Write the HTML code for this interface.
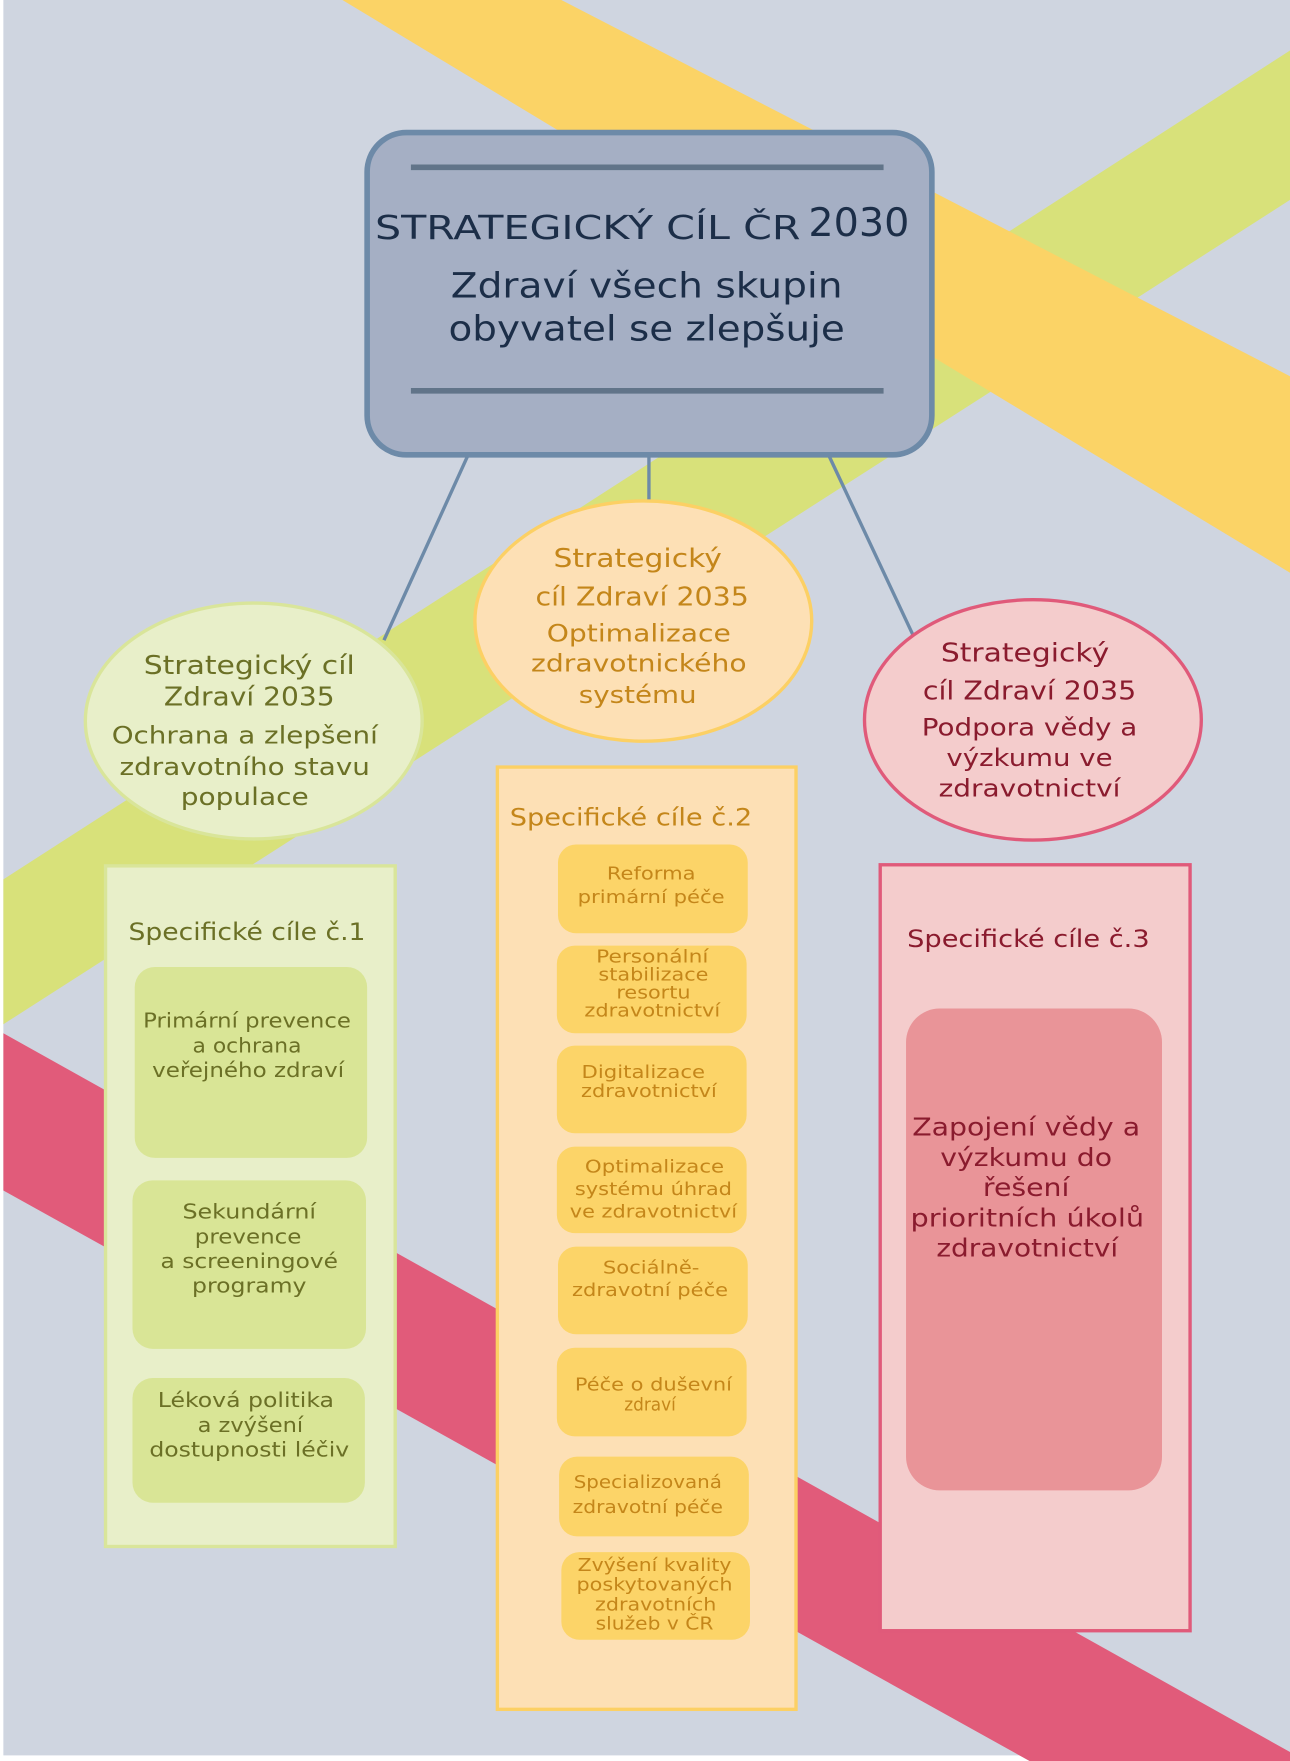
<!DOCTYPE html>
<html><head><meta charset="utf-8"><style>
html,body{margin:0;padding:0;background:#fff;}
svg{display:block;}
text{font-family:"DejaVu Sans","Liberation Sans",sans-serif;}
</style></head><body>
<svg width="1290" height="1761" viewBox="0 0 1149 1568" preserveAspectRatio="none" xmlns="http://www.w3.org/2000/svg">
<rect x="0" y="0" width="1149" height="1568" fill="#fff"/>
<rect x="3" y="0" width="1146" height="1563" fill="#cfd5e0"/>
<!-- bands -->
<polygon points="1149,45 1149,178 3,912 3,783" fill="#d8e17a"/>
<polygon points="305,0 500,0 1149,335 1149,510" fill="#fbd366"/>
<polygon points="3,920 1149,1560 1149,1568 917,1568 3,1060" fill="#e15b7a"/>
<!-- connectors -->
<g stroke="#6d8aa8" stroke-width="3">
<line x1="417" y1="405" x2="342" y2="570"/>
<line x1="578" y1="405" x2="578" y2="448"/>
<line x1="738" y1="405" x2="813" y2="565"/>
</g>
<!-- main box -->
<rect x="327" y="118" width="503" height="287" rx="35" fill="#a5afc4" stroke="#6d8aa8" stroke-width="5"/>
<line x1="366" y1="149" x2="787" y2="149" stroke="#617489" stroke-width="5"/>
<line x1="366" y1="348" x2="787" y2="348" stroke="#617489" stroke-width="5"/>
<g fill="#1c2e48" lengthAdjust="spacingAndGlyphs">
<text x="334" y="213" font-size="29" textLength="379" lengthAdjust="spacingAndGlyphs">STRATEGICKÝ CÍL ČR</text>
<text x="720" y="210" font-size="35" textLength="90" lengthAdjust="spacingAndGlyphs">2030</text>
<text x="576" y="265" font-size="31" text-anchor="middle" textLength="349" lengthAdjust="spacingAndGlyphs">Zdraví všech skupin</text>
<text x="576" y="303" font-size="31" text-anchor="middle" textLength="353" lengthAdjust="spacingAndGlyphs">obyvatel se zlepšuje</text>
</g>
<!-- ellipses -->
<ellipse cx="226" cy="642" rx="150" ry="105" fill="#e8efc9" stroke="#d9e59a" stroke-width="3"/>
<g fill="#6b7026" text-anchor="middle" lengthAdjust="spacingAndGlyphs">
<text x="222" y="600" font-size="23" textLength="188" lengthAdjust="spacingAndGlyphs">Strategický cíl</text>
<text x="222" y="628" font-size="23" textLength="152" lengthAdjust="spacingAndGlyphs">Zdraví 2035</text>
<text x="218" y="662" font-size="21" textLength="237" lengthAdjust="spacingAndGlyphs">Ochrana a zlepšení</text>
<text x="218" y="690" font-size="21" textLength="223" lengthAdjust="spacingAndGlyphs">zdravotního stavu</text>
<text x="218" y="717" font-size="21" textLength="114" lengthAdjust="spacingAndGlyphs">populace</text>
</g>
<ellipse cx="573" cy="553" rx="150" ry="107" fill="#fde0b5" stroke="#fcd064" stroke-width="3"/>
<g fill="#c4861a" text-anchor="middle">
<text x="568" y="505" font-size="23" textLength="150" lengthAdjust="spacingAndGlyphs">Strategický</text>
<text x="572" y="539" font-size="23" textLength="190" lengthAdjust="spacingAndGlyphs">cíl Zdraví 2035</text>
<text x="569" y="571" font-size="21" textLength="164" lengthAdjust="spacingAndGlyphs">Optimalizace</text>
<text x="569" y="598" font-size="21" textLength="192" lengthAdjust="spacingAndGlyphs">zdravotnického</text>
<text x="568" y="626" font-size="21" textLength="105" lengthAdjust="spacingAndGlyphs">systému</text>
</g>
<ellipse cx="920" cy="641" rx="150" ry="107" fill="#f4cccc" stroke="#e05a7a" stroke-width="3"/>
<g fill="#8a1b2e" text-anchor="middle">
<text x="913" y="589" font-size="23" textLength="150" lengthAdjust="spacingAndGlyphs">Strategický</text>
<text x="917" y="623" font-size="23" textLength="190" lengthAdjust="spacingAndGlyphs">cíl Zdraví 2035</text>
<text x="917" y="655" font-size="21" textLength="192" lengthAdjust="spacingAndGlyphs">Podpora vědy a</text>
<text x="917" y="682" font-size="21" textLength="148" lengthAdjust="spacingAndGlyphs">výzkumu ve</text>
<text x="917" y="709" font-size="21" textLength="162" lengthAdjust="spacingAndGlyphs">zdravotnictví</text>
</g>
<!-- left panel -->
<rect x="94" y="771" width="258" height="606" fill="#e8efc9" stroke="#d9e59a" stroke-width="3"/>
<text x="220" y="837" font-size="21" fill="#6b7026" text-anchor="middle" textLength="211" lengthAdjust="spacingAndGlyphs">Specifické cíle č.1</text>
<g fill="#d9e596">
<rect x="120" y="861" width="207" height="170" rx="18"/>
<rect x="118" y="1051" width="208" height="150" rx="18"/>
<rect x="118" y="1227" width="207" height="111" rx="18"/>
</g>
<g fill="#6b7026" text-anchor="middle" font-size="18">
<text x="220" y="915" textLength="185" lengthAdjust="spacingAndGlyphs">Primární prevence</text>
<text x="220" y="937" textLength="97" lengthAdjust="spacingAndGlyphs">a ochrana</text>
<text x="221" y="959" textLength="171" lengthAdjust="spacingAndGlyphs">veřejného zdraví</text>
<text x="222" y="1085" textLength="119" lengthAdjust="spacingAndGlyphs">Sekundární</text>
<text x="221" y="1107" textLength="95" lengthAdjust="spacingAndGlyphs">prevence</text>
<text x="222" y="1129" textLength="158" lengthAdjust="spacingAndGlyphs">a screeningové</text>
<text x="222" y="1151" textLength="102" lengthAdjust="spacingAndGlyphs">programy</text>
<text x="219" y="1253" textLength="157" lengthAdjust="spacingAndGlyphs">Léková politika</text>
<text x="223" y="1275" textLength="94" lengthAdjust="spacingAndGlyphs">a zvýšení</text>
<text x="222" y="1297" textLength="178" lengthAdjust="spacingAndGlyphs">dostupnosti léčiv</text>
</g>
<!-- middle panel -->
<rect x="443" y="683" width="266" height="839" fill="#fde0b5" stroke="#fcd064" stroke-width="3"/>
<text x="562" y="735" font-size="21" fill="#c4861a" text-anchor="middle" textLength="216" lengthAdjust="spacingAndGlyphs">Specifické cíle č.2</text>
<g fill="#fcd468">
<rect x="497" y="752" width="169" height="79" rx="16"/>
<rect x="496" y="842" width="169" height="78" rx="16"/>
<rect x="496" y="931" width="169" height="78" rx="16"/>
<rect x="496" y="1021" width="169" height="77" rx="16"/>
<rect x="497" y="1110" width="169" height="78" rx="16"/>
<rect x="496" y="1200" width="169" height="79" rx="16"/>
<rect x="498" y="1297" width="169" height="71" rx="16"/>
<rect x="500" y="1382" width="168" height="78" rx="16"/>
</g>
<g fill="#c4861a" text-anchor="middle" font-size="16">
<text x="580" y="783" textLength="79" lengthAdjust="spacingAndGlyphs">Reforma</text>
<text x="580" y="804" textLength="131" lengthAdjust="spacingAndGlyphs">primární péče</text>
<text x="581" y="857" textLength="100" lengthAdjust="spacingAndGlyphs">Personální</text>
<text x="582" y="873" textLength="98" lengthAdjust="spacingAndGlyphs">stabilizace</text>
<text x="582" y="889" textLength="66" lengthAdjust="spacingAndGlyphs">resortu</text>
<text x="581" y="905" textLength="121" lengthAdjust="spacingAndGlyphs">zdravotnictví</text>
<text x="573" y="960" textLength="110" lengthAdjust="spacingAndGlyphs">Digitalizace</text>
<text x="578" y="977" textLength="121" lengthAdjust="spacingAndGlyphs">zdravotnictví</text>
<text x="583" y="1044" textLength="124" lengthAdjust="spacingAndGlyphs">Optimalizace</text>
<text x="582" y="1064" textLength="140" lengthAdjust="spacingAndGlyphs">systému úhrad</text>
<text x="582" y="1084" textLength="149" lengthAdjust="spacingAndGlyphs">ve zdravotnictví</text>
<text x="580" y="1134" textLength="86" lengthAdjust="spacingAndGlyphs">Sociálně-</text>
<text x="579" y="1154" textLength="139" lengthAdjust="spacingAndGlyphs">zdravotní péče</text>
<text x="582" y="1238" textLength="140" lengthAdjust="spacingAndGlyphs">Péče o duševní</text>
<text x="579" y="1256" textLength="46" lengthAdjust="spacingAndGlyphs">zdraví</text>
<text x="577" y="1325" textLength="132" lengthAdjust="spacingAndGlyphs">Specializovaná</text>
<text x="577" y="1347" textLength="134" lengthAdjust="spacingAndGlyphs">zdravotní péče</text>
<text x="583" y="1399" textLength="137" lengthAdjust="spacingAndGlyphs">Zvýšení kvality</text>
<text x="583" y="1416" textLength="139" lengthAdjust="spacingAndGlyphs">poskytovaných</text>
<text x="584" y="1434" textLength="108" lengthAdjust="spacingAndGlyphs">zdravotních</text>
<text x="583" y="1451" textLength="105" lengthAdjust="spacingAndGlyphs">služeb v ČR</text>
</g>
<!-- right panel -->
<rect x="784" y="770" width="276" height="682" fill="#f4cccc" stroke="#e05a7a" stroke-width="3"/>
<text x="916" y="843" font-size="21" fill="#8a1b2e" text-anchor="middle" textLength="216" lengthAdjust="spacingAndGlyphs">Specifické cíle č.3</text>
<rect x="807" y="898" width="228" height="429" rx="30" fill="#e99498"/>
<g fill="#8a1b2e" text-anchor="middle" font-size="22">
<text x="914" y="1011" textLength="203" lengthAdjust="spacingAndGlyphs">Zapojení vědy  a</text>
<text x="914" y="1038" textLength="153" lengthAdjust="spacingAndGlyphs">výzkumu do</text>
<text x="914" y="1065" textLength="77" lengthAdjust="spacingAndGlyphs">řešení</text>
<text x="915" y="1092" textLength="208" lengthAdjust="spacingAndGlyphs">prioritních úkolů</text>
<text x="915" y="1119" textLength="162" lengthAdjust="spacingAndGlyphs">zdravotnictví</text>
</g>
</svg>
</body></html>
